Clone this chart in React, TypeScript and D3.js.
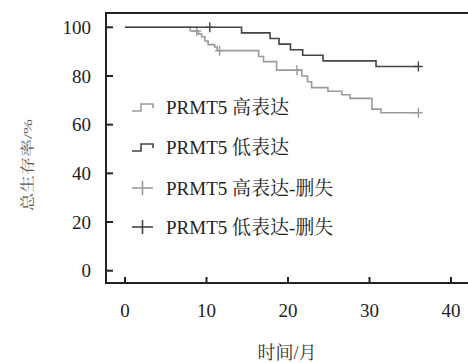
import React, { useEffect, useRef } from 'react';
import * as d3 from 'd3';

// survival (%) after each step
const lowTimes = [0, 14.3, 17.8, 18.9, 20.3, 21.8, 24.3, 30.8, 36];
const lowSurv = [100, 97.7, 95.4, 93.1, 90.8, 88.5, 86.2, 83.9, 83.9];
const lowCensor = [10.4, 36];

const highTimes = [0, 8.0, 9.0, 9.4, 9.8, 10.2, 11.0, 11.3, 16.4, 17.0, 18.6, 21.7, 22.4, 22.9, 24.9, 26.6, 27.6, 30.3, 31.4, 36];
const highSurv = [100, 98.5, 97.3, 96.1, 94.4, 92.9, 91.9, 90.4, 88.0, 85.9, 82.4, 80.0, 77.6, 75.2, 73.7, 72.3, 70.8, 66.4, 64.9, 64.9];
const highCensor = [8.8, 11.6, 21.1, 36];

const xTicks = [0, 10, 20, 30, 40];
const yTicks = [0, 20, 40, 60, 80, 100];
const legendLabels = ['PRMT5 高表达', 'PRMT5 低表达', 'PRMT5 高表达-删失', 'PRMT5 低表达-删失'];

const LIGHT = '#9a9a9a';
const DARK = '#444';
const FONT = "'Liberation Serif', 'Noto Serif CJK SC', 'Noto Sans CJK SC'";

const App = () => {
  const ref = useRef<SVGSVGElement>(null);

  useEffect(() => {
    const w = 468;
    const h = 363;
    const svg = d3.select(ref.current);
    svg.selectAll('*').remove();

    const x = d3.scaleLinear().domain([0, 40]).range([125, 451]);
    const y = d3.scaleLinear().domain([0, 100]).range([270.7, 27.3]);

    const left = 106, top = 13, bottom = 283;

    // frame (open on the right)
    svg.append('path')
      .attr('d', `M${w},${top}H${left}V${bottom}H${w}`)
      .attr('fill', 'none')
      .attr('stroke', '#222')
      .attr('stroke-width', 2);

    // y ticks pointing inward
    svg.selectAll('.ytick')
      .data(yTicks)
      .enter()
      .append('line')
      .attr('x1', left).attr('x2', left + 7)
      .attr('y1', d => y(d)).attr('y2', d => y(d))
      .attr('stroke', '#222').attr('stroke-width', 2);

    svg.selectAll('.ylab')
      .data(yTicks)
      .enter()
      .append('text')
      .attr('x', 91)
      .attr('y', d => y(d))
      .attr('dy', '0.35em')
      .attr('text-anchor', 'end')
      .attr('font-size', 19)
      .attr('fill', '#222')
      .text(d => d);

    // x ticks pointing up
    svg.selectAll('.xtick')
      .data(xTicks)
      .enter()
      .append('line')
      .attr('x1', d => x(d)).attr('x2', d => x(d))
      .attr('y1', bottom).attr('y2', bottom - 6)
      .attr('stroke', '#222').attr('stroke-width', 2);

    svg.selectAll('.xlab')
      .data(xTicks)
      .enter()
      .append('text')
      .attr('x', d => x(d))
      .attr('y', 310)
      .attr('dy', '0.35em')
      .attr('text-anchor', 'middle')
      .attr('font-size', 19)
      .attr('fill', '#222')
      .text(d => d);

    // axis titles
    svg.append('text')
      .attr('x', 287).attr('y', 353)
      .attr('dy', '0.35em')
      .attr('text-anchor', 'middle')
      .attr('font-size', 18)
      .attr('fill', '#333')
      .text('时间/月');

    svg.append('text')
      .attr('transform', 'translate(27,165) rotate(-90) scale(1,0.75)')
      .attr('dy', '0.35em')
      .attr('text-anchor', 'middle')
      .attr('font-size', 18)
      .attr('fill', '#555')
      .text('总生存率/%');

    // KM step curves
    const groups = [
      { surv: highSurv, times: highTimes, censor: highCensor, color: LIGHT },
      { surv: lowSurv, times: lowTimes, censor: lowCensor, color: DARK },
    ];

    groups.forEach(g => {
      const line = d3.line<number>()
        .x((d, i) => x(g.times[i]))
        .y(d => y(d))
        .curve(d3.curveStepAfter);

      svg.append('path')
        .attr('d', line(g.surv))
        .attr('fill', 'none')
        .attr('stroke', g.color)
        .attr('stroke-width', 1.6);

      const survAt = (t: number) => {
        const i = d3.bisectRight(g.times, t) - 1;
        return g.surv[Math.max(0, i)];
      };

      const marks = svg.append('g');
      g.censor.forEach(t => {
        const cx = x(t), cy = y(survAt(t));
        marks.append('line')
          .attr('x1', cx).attr('x2', cx)
          .attr('y1', cy - 5).attr('y2', cy + 5)
          .attr('stroke', g.color).attr('stroke-width', 1.4);
        marks.append('line')
          .attr('x1', cx - 4.5).attr('x2', cx + 4.5)
          .attr('y1', cy).attr('y2', cy)
          .attr('stroke', g.color).attr('stroke-width', 1.4);
      });
    });

    // legend
    const rowsY = [107, 147, 188, 227];
    const legendColors = [LIGHT, DARK, LIGHT, DARK];
    rowsY.forEach((ry, i) => {
      const c = legendColors[i];
      if (i < 2) {
        svg.append('path')
          .attr('d', `M132,${ry + 4}H141V${ry - 3}H153V${ry + 1}`)
          .attr('fill', 'none')
          .attr('stroke', c)
          .attr('stroke-width', 1.6);
      } else {
        svg.append('line')
          .attr('x1', 132).attr('x2', 153)
          .attr('y1', ry).attr('y2', ry)
          .attr('stroke', c).attr('stroke-width', 1.6);
        svg.append('line')
          .attr('x1', 142.5).attr('x2', 142.5)
          .attr('y1', ry - 7).attr('y2', ry + 7)
          .attr('stroke', c).attr('stroke-width', 1.6);
      }
      svg.append('text')
        .attr('x', 166)
        .attr('y', ry)
        .attr('dy', '0.35em')
        .attr('font-size', 19)
        .attr('fill', '#222')
        .text(legendLabels[i]);
    });

    svg.attr('width', w).attr('height', h);
  }, []);

  return (
    <svg
      ref={ref}
      width={468}
      height={363}
      style={{ position: 'absolute', left: 0, top: 0, background: '#fff', fontFamily: FONT }}
    ></svg>
  );
};

export default App;
